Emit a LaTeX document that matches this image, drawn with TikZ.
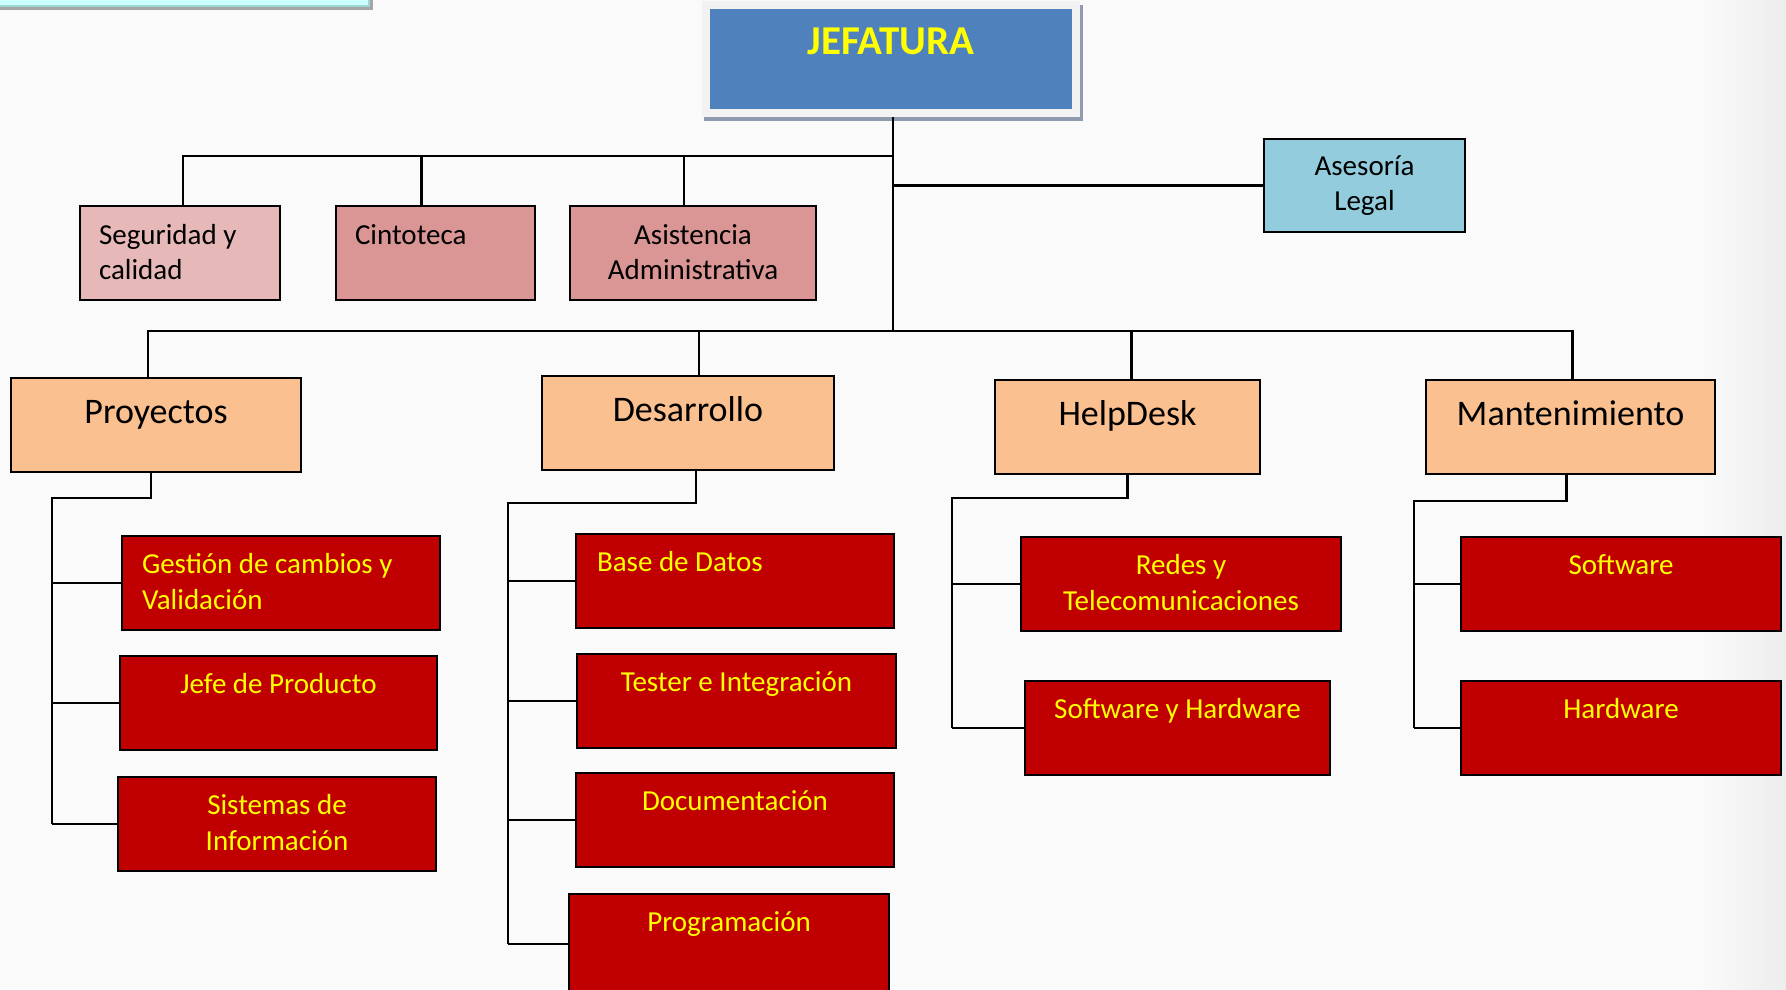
\documentclass[tikz,border=0pt]{standalone}
\usepackage{fontspec}
\setmainfont{Carlito}
\usepackage{xcolor}
\usepackage{tikz}

\definecolor{fondo}{HTML}{FAFAFA}
\definecolor{cian}{HTML}{CCFFFF}
\definecolor{cianborde}{HTML}{9ED6D6}
\definecolor{azul}{HTML}{4F81BD}
\definecolor{sombra}{HTML}{8E9BAE}
\definecolor{marco}{HTML}{F2F2F2}
\definecolor{rosa}{HTML}{E6B9B8}
\definecolor{rosado}{HTML}{D99694}
\definecolor{celeste}{HTML}{93CDDD}
\definecolor{naranja}{HTML}{FAC090}
\definecolor{rojo}{HTML}{C00000}
\definecolor{amarillo}{HTML}{FFFF00}

% two lines, first baseline on top
\newcommand{\dos}[3][c]{\begin{tabular}[t]{@{}#1@{}}#2\\#3\end{tabular}}
% text pushed to the left inside a box
\newcommand{\izq}[2]{\makebox[#1][l]{#2}}

\tikzset{
    linea/.style={line width=2.6pt, black},
    caja/.style={draw=black, line width=2.6pt, inner sep=0pt, outer sep=0pt, anchor=north west},
    staff/.style={caja, font=\fontsize{29pt}{35pt}\selectfont, text height=38pt, text depth=56pt},
    area/.style={caja, fill=naranja, font=\fontsize{36pt}{43pt}\selectfont, text height=45pt, text depth=49pt},
    unidad/.style={caja, fill=rojo, text=amarillo, font=\fontsize{29pt}{36pt}\selectfont, text height=37pt, text depth=57pt}
}

\begin{document}
\begin{tikzpicture}[x=1pt, y=-1pt]
        \useasboundingbox (0,0) rectangle (1786,989);
        \clip (0,0) rectangle (1786,989);
        \fill[fondo] (0,0) rectangle (1786,989);
        \shade[left color=fondo, right color=black!7] (1700,0) rectangle (1786,989);

        % box cut at the top left corner
        \fill[black!35] (-5,-5) rectangle (373,10);
        \filldraw[fill=cian, draw=cianborde, line width=2pt] (-5,-5) rectangle (369,6);

        % Jefatura
        \fill[sombra] (704,5) rectangle (1083,121);
        \node[caja, draw=marco, line width=8pt, fill=azul, text=amarillo,
              font=\bfseries\fontsize{41pt}{49pt}\selectfont, minimum width=370pt,
              text height=49pt, text depth=59pt] (jefe) at (706,5) {JEFATURA};

        % staff boxes
        \node[staff, fill=rosa, minimum width=200pt] (seg) at (80,206) {\izq{162pt}{\dos[l]{Seguridad y}{calidad}}};
        \node[staff, fill=rosado, minimum width=199pt] (cin) at (336,206) {\izq{161pt}{Cintoteca}};
        \node[staff, fill=rosado, minimum width=246pt] (asi) at (570,206) {\dos{Asistencia}{Administrativa}};
        \node[staff, fill=celeste, minimum width=201pt, text height=36pt, text depth=57pt] (ase) at (1264,139) {\dos{Asesoría}{Legal}};

        % areas
        \node[area, minimum width=290pt] (proy) at (11,378) {Proyectos};
        \node[area, minimum width=292pt] (des) at (542,376) {Desarrollo};
        \node[area, minimum width=265pt] (help) at (995,380) {HelpDesk};
        \node[area, minimum width=289pt] (mant) at (1426,380) {Mantenimiento};

        % Proyectos
        \node[unidad, minimum width=318pt] (gc) at (122,536) {\izq{278pt}{\dos[l]{Gestión de cambios y}{Validación}}};
        \node[unidad, minimum width=317pt] (jp) at (120,656) {Jefe de Producto};
        \node[unidad, minimum width=318pt] (si) at (118,777) {\dos{Sistemas de}{Información}};

        % Desarrollo
        \node[unidad, minimum width=318pt] (bd) at (576,534) {\izq{276pt}{Base de Datos}};
        \node[unidad, minimum width=319pt] (te) at (577,654) {Tester e Integración};
        \node[unidad, minimum width=318pt] (doc) at (576,773) {Documentación};
        \node[unidad, minimum width=320pt, text depth=63pt] (prog) at (569,894) {Programación};

        % HelpDesk
        \node[unidad, minimum width=320pt] (redes) at (1021,537) {\dos{Redes y}{Telecomunicaciones}};
        \node[unidad, minimum width=305pt] (swhw) at (1025,681) {Software y Hardware};

        % Mantenimiento
        \node[unidad, minimum width=320pt] (sw) at (1461,537) {Software};
        \node[unidad, minimum width=320pt] (hw) at (1461,681) {Hardware};

        % lines from the top
        \coordinate (bus1) at (893,156);
        \coordinate (bus2) at (893,331);
        \coordinate (j0) at ([yshift=-4pt]jefe.south);
        \draw[linea] (bus1 |- j0) -- (bus2);
        \draw[linea] ([xshift=3pt]seg.north) |- (bus1);
        \draw[linea] ([xshift=-14pt]cin.north) |- (bus1);
        \draw[linea] ([xshift=-9pt]asi.north) |- (bus1);
        \draw[linea] (ase.west) -- (ase.west -| bus1);

        \draw[linea] ([xshift=-8pt]proy.north) |- (bus2);
        \draw[linea] ([xshift=11pt]des.north) |- (bus2);
        \draw[linea] ([xshift=4pt]help.north) |- (bus2);
        \draw[linea] ([xshift=2pt]mant.north) |- (bus2);

        % lines down to the units
        \coordinate (pb) at (52,498);
        \draw[linea] ([xshift=-5pt]proy.south) |- (pb) -- (pb |- si.west);
        \foreach \n in {gc,jp,si}
            \draw[linea] (pb |- \n.west) -- (\n.west);

        \coordinate (db) at (508,503);
        \draw[linea] ([xshift=8pt]des.south) |- (db) -- (db |- prog.west);
        \foreach \n in {bd,te,doc,prog}
            \draw[linea] (db |- \n.west) -- (\n.west);

        \coordinate (hb) at (952,498);
        \draw[linea] (help.south) |- (hb) -- (hb |- swhw.west);
        \foreach \n in {redes,swhw}
            \draw[linea] (hb |- \n.west) -- (\n.west);

        \coordinate (mb) at (1414,501);
        \draw[linea] ([xshift=-4pt]mant.south) |- (mb) -- (mb |- hw.west);
        \foreach \n in {sw,hw}
            \draw[linea] (mb |- \n.west) -- (\n.west);

    \end{tikzpicture}
\end{document}
